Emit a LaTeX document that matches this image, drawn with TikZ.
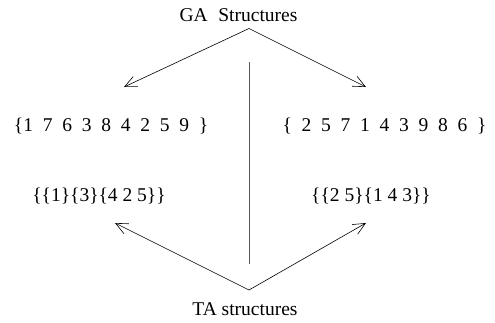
\documentclass[tikz,border=0pt]{standalone}
\usepackage{fontspec}
\setmainfont{Liberation Serif}
\usetikzlibrary{arrows.meta}
\begin{document}
\begin{tikzpicture}[x=1pt,y=-1pt,
  lbl/.style={inner sep=0pt,anchor=base,font=\fontsize{19.5}{23}\selectfont},
  conn/.style={line width=0.6pt,-{Straight Barb[length=12pt,width=11pt,line width=0.6pt]}}]
\useasboundingbox (0,0) rectangle (495,322);
\def\g{\hspace{0.5em}}
\node[lbl] (ga) at (238.5,21) {GA\hspace{0.55em}Structures};
\node[lbl] (ta) at (245,315) {TA structures};
\node[lbl] (l1) at (111,131) {\{1\g7\g6\g3\g8\g4\g2\g5\g9\g\}};
\node[lbl] (r1) at (384.5,131) {\{\g2\g5\g7\g1\g4\g3\g9\g8\g6\g\}};
\node[lbl] (l2) at (99,201) {\{\{1\}\{3\}\{4 2 5\}\}};
\node[lbl] (r2) at (371,201) {\{\{2 5\}\{1 4 3\}\}};
\coordinate (top) at (249,28.5);
\coordinate (bot) at (249,290);
\coordinate (tl) at (124,87);
\coordinate (tr) at (366,87);
\coordinate (bl) at (115,223);
\coordinate (br) at (366,223);
\coordinate (v1) at (249,62);
\coordinate (v2) at (249,264);
\draw[conn] (top) -- (tl);
\draw[conn] (top) -- (tr);
\draw[conn] (bot) -- (bl);
\draw[conn] (bot) -- (br);
\draw[line width=1pt,black!65] (v1) -- (v2);
\end{tikzpicture}
\end{document}
